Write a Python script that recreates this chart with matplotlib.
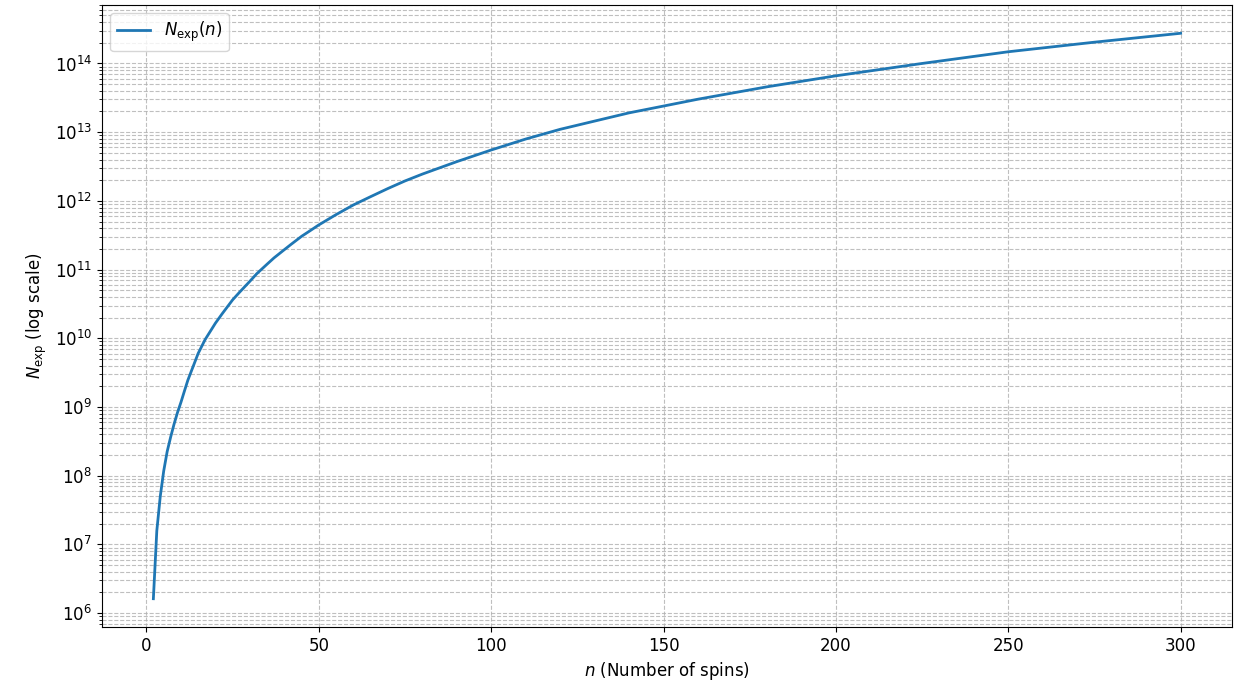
import matplotlib
matplotlib.use("Agg")
import matplotlib.pyplot as plt

# Values
n_values = [2, 3, 4, 5, 6, 7, 8, 9, 10, 11, 12, 13, 14, 15, 17, 20, 22, 25,
            27, 30, 32, 35, 37, 40, 42, 45, 47, 50, 55, 60, 65, 70, 75, 80,
            85, 90, 100, 110, 120, 130, 140, 150, 160, 180, 200, 225, 250,
            275, 300]
n_exp = [1.62e6, 1.58e7, 5.0e7, 1.17e8, 2.24e8, 3.63e8, 5.62e8, 8.32e8,
         1.17e9, 1.70e9, 2.45e9, 3.31e9, 4.47e9, 6.03e9, 9.55e9, 1.66e10,
         2.29e10, 3.63e10, 4.68e10, 6.76e10, 8.71e10, 1.20e11, 1.48e11,
         1.95e11, 2.34e11, 3.05e11, 3.55e11, 4.47e11, 6.31e11, 8.71e11,
         1.15e12, 1.51e12, 1.95e12, 2.45e12, 3.02e12, 3.72e12, 5.50e12,
         7.94e12, 1.10e13, 1.45e13, 1.91e13, 2.40e13, 3.02e13, 4.57e13,
         6.61e13, 1.0e14, 1.48e14, 2.04e14, 2.75e14]

plt.rcParams["font.size"] = 12

fig = plt.figure(figsize=(12.42, 6.92), dpi=100)
ax = fig.add_axes([102 / 1242, 1 - 627 / 692, (1232 - 102) / 1242, (627 - 5) / 692])
ax.plot(n_values, n_exp, color="#1f77b4", lw=2.0, label=r"$N_{\mathrm{exp}}(n)$")
ax.set_yscale("log")
ax.set_xlabel(r"$n$ (Number of spins)")
ax.set_ylabel(r"$N_{\mathrm{exp}}$ (log scale)")
ax.grid(True, which="both", ls="--", alpha=0.8)
ax.legend(loc="upper left")
fig.savefig("out.png", dpi=100)
